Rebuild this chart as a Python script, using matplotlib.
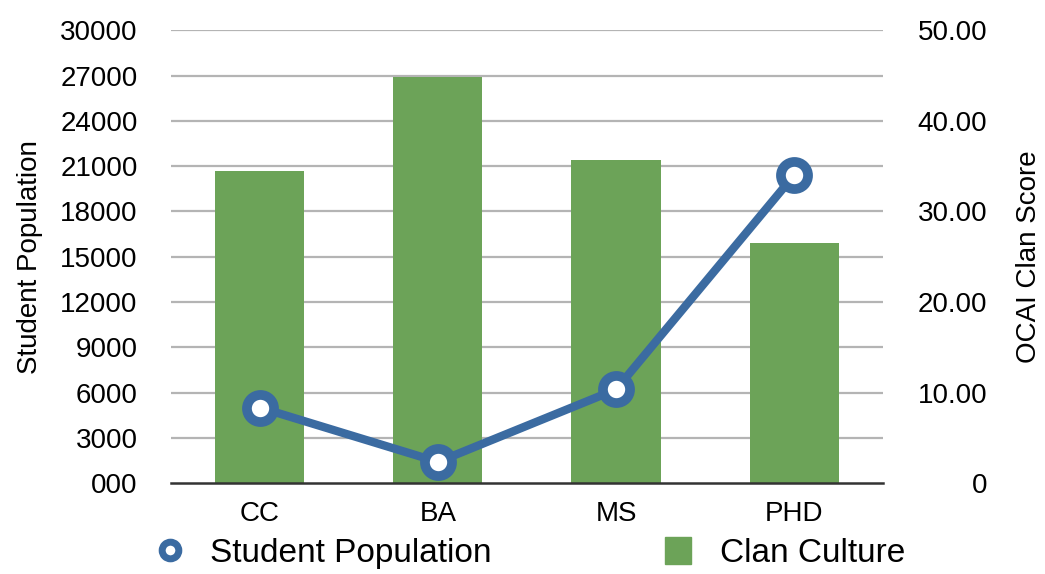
import matplotlib.pyplot as plt
from matplotlib.lines import Line2D
from matplotlib.patches import Patch
import numpy as np

plt.rcParams['font.family'] = ['Liberation Sans', 'DejaVu Sans']

categories = ['CC', 'BA', 'MS', 'PHD']
student_population = [5000, 1400, 6200, 20400]
clan_culture = [34.5, 44.9, 35.7, 26.5]

left_ticks = [0, 3000, 6000, 9000, 12000, 15000, 18000, 21000, 24000, 27000, 30000]
left_labels = ['000', '3000', '6000', '9000', '12000', '15000', '18000',
               '21000', '24000', '27000', '30000']
right_ticks = [0, 10, 20, 30, 40, 50]
right_labels = ['0', '10.00', '20.00', '30.00', '40.00', '50.00']

blue = '#3b6ba1'
green = '#6ca358'
fs = 20

fig = plt.figure(figsize=(10.45, 5.74), dpi=100)
ax = fig.add_axes([0.1636, 0.1585, 0.6814, 0.7884])
ax2 = ax.twinx()

x = np.arange(len(categories))

# bars on the right axis, line on the left axis; line drawn on top
ax.set_zorder(ax2.get_zorder() + 1)
ax.patch.set_visible(False)

ax2.bar(x, clan_culture, width=0.5, color=green, zorder=2)
ax.plot(x, student_population, color=blue, lw=6, zorder=3)
ax.plot(x, student_population, ls='none', marker='o', ms=19.5,
        mfc='white', mec=blue, mew=7, zorder=4)

ax.set_xlim(-0.5, 3.5)
ax.set_ylim(0, 30000)
ax2.set_ylim(0, 50)

ax.set_yticks(left_ticks)
ax.set_yticklabels(left_labels)
ax2.set_yticks(right_ticks)
ax2.set_yticklabels(right_labels)
ax.set_xticks(x)
ax.set_xticklabels(categories)

for a in (ax, ax2):
    for s in ('left', 'right', 'top', 'bottom'):
        a.spines[s].set_visible(False)
ax2.spines['bottom'].set_visible(True)
ax2.spines['bottom'].set_color('#333333')
ax2.spines['bottom'].set_linewidth(1.8)

# gridlines every 3000 on the left axis
for v in left_ticks[1:]:
    ax2.axhline(v / 600.0, color='#b4b4b4', lw=1.6, zorder=1)

ax.tick_params(axis='both', length=0, labelsize=fs)
ax.tick_params(axis='y', pad=24)
ax.tick_params(axis='x', pad=13)
ax2.tick_params(axis='y', length=0, labelsize=fs, pad=75)
for t in ax2.get_yticklabels():
    t.set_horizontalalignment('right')

ax.set_ylabel('Student Population', fontsize=fs, labelpad=12)
ax2.set_ylabel('OCAI Clan Score', fontsize=fs, rotation=90, labelpad=21)

h1 = Line2D([], [], ls='none', marker='o', ms=12, mfc='white', mec=blue, mew=5)
h2 = Patch(color=green)
fig.legend(handles=[h1], labels=['Student Population'], loc='center left',
           bbox_to_anchor=(0.150, 0.036), frameon=False, fontsize=24,
           borderpad=0, borderaxespad=0, handlelength=0.8, handletextpad=0.8)
fig.legend(handles=[h2], labels=['Clan Culture'], loc='center left',
           bbox_to_anchor=(0.636, 0.036), frameon=False, fontsize=24,
           borderpad=0, borderaxespad=0, handlelength=0.8, handleheight=0.85,
           handletextpad=0.85)

plt.savefig('out.png', dpi=100)
